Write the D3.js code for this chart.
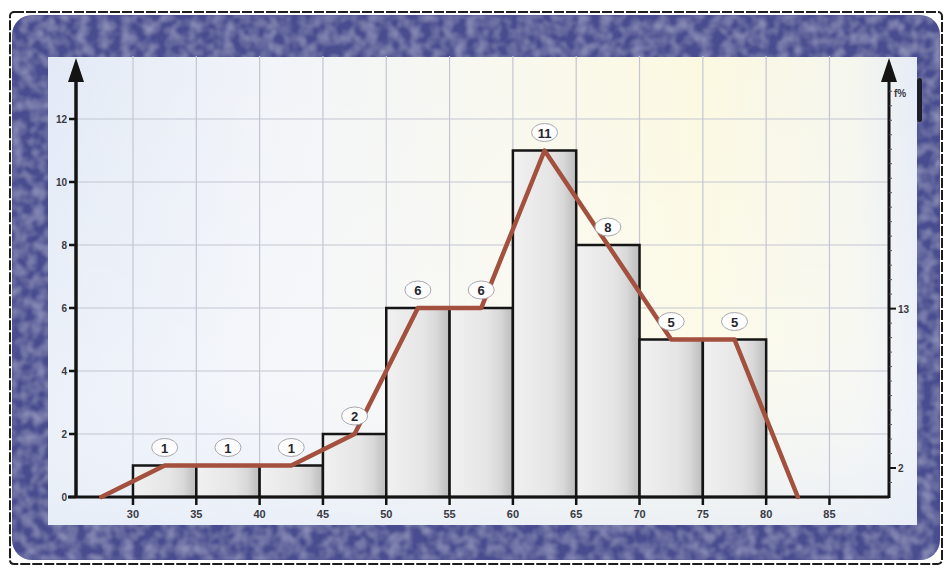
<!DOCTYPE html>
<html>
<head>
<meta charset="utf-8">
<script src="https://cdn.jsdelivr.net/npm/d3@7"></script>
<style>
  html, body { margin: 0; padding: 0; background: #fff; }
  svg { display: block; font-family: "Liberation Sans", Arial, sans-serif; }
</style>
</head>
<body>
<svg id="chart"></svg>
<script>
// Class intervals (lower bounds), class width and frequencies
const binStarts = [30, 35, 40, 45, 50, 55, 60, 65, 70, 75];
const binWidth = 5;
const counts = [1, 1, 1, 2, 6, 6, 11, 8, 5, 5];

// Tick labels
const xTicks = [30, 35, 40, 45, 50, 55, 60, 65, 70, 75, 80, 85];
const yTicks = [0, 2, 4, 6, 8, 10, 12];
const pctTicks = [2, 13];
const pctLabel = "f%";

function drawHistogram(svgId) {
    const W = 952, H = 573;
    const svg = d3.select("#" + svgId)
        .attr("width", W)
        .attr("height", H);

    const total = d3.sum(counts);

    // Scales (domain runs a little past the classes, like the drawing)
    const x = d3.scaleLinear().domain([25.5, 89.7]).range([76, 889]);
    const y = d3.scaleLinear().domain([0, 14]).range([497, 56]);
    const yPct = d3.scaleLinear().domain([0, 14 / total * 100]).range([497, 56]);

    const defs = svg.append("defs");

    // Frame texture: soft mottling
    const tex = defs.append("filter").attr("id", "tex")
        .attr("x", 0).attr("y", 0).attr("width", 1).attr("height", 1);
    tex.append("feTurbulence")
        .attr("type", "fractalNoise")
        .attr("baseFrequency", 0.09)
        .attr("numOctaves", 2)
        .attr("seed", 4)
        .attr("result", "noise");
    tex.append("feColorMatrix")
        .attr("in", "noise")
        .attr("type", "matrix")
        .attr("values", "0 0 0 0 0.50  0 0 0 0 0.52  0 0 0 0 0.74  0 0 0 0.9 -0.32")
        .attr("result", "spots");
    tex.append("feGaussianBlur")
        .attr("in", "spots").attr("stdDeviation", 0.8).attr("result", "soft");
    tex.append("feComposite")
        .attr("in", "soft").attr("in2", "SourceGraphic")
        .attr("operator", "in").attr("result", "spots2");
    const merge = tex.append("feMerge");
    merge.append("feMergeNode").attr("in", "SourceGraphic");
    merge.append("feMergeNode").attr("in", "spots2");

    // Panel background
    const panelGrad = defs.append("linearGradient").attr("id", "panelGrad")
        .attr("x1", 0).attr("x2", 1).attr("y1", 0).attr("y2", 0);
    [["0%", "#e3eaf6"], ["25%", "#f1f4f9"], ["50%", "#f8f8f0"], ["75%", "#fcf9e1"], ["93%", "#f5f6ee"], ["100%", "#e6ecf7"]]
        .forEach(s => panelGrad.append("stop").attr("offset", s[0]).attr("stop-color", s[1]));

    const panelFade = defs.append("linearGradient").attr("id", "panelFade")
        .attr("x1", 0).attr("x2", 0).attr("y1", 0).attr("y2", 1);
    panelFade.append("stop").attr("offset", "0%").attr("stop-color", "#fff").attr("stop-opacity", 0);
    panelFade.append("stop").attr("offset", "60%").attr("stop-color", "#fff").attr("stop-opacity", 0.25);
    panelFade.append("stop").attr("offset", "100%").attr("stop-color", "#e8eef8").attr("stop-opacity", 0.8);

    // Bar fill
    const barGrad = defs.append("linearGradient").attr("id", "barGrad")
        .attr("x1", 0).attr("x2", 1).attr("y1", 0).attr("y2", 0);
    [["0%", "#f1f1f1"], ["60%", "#e5e5e5"], ["80%", "#d8d8d8"], ["92%", "#c6c6c6"], ["100%", "#bebebe"]]
        .forEach(s => barGrad.append("stop").attr("offset", s[0]).attr("stop-color", s[1]));

    // Outer frame
    svg.append("rect")
        .attr("x", 10).attr("y", 12)
        .attr("width", 932).attr("height", 552)
        .attr("rx", 4)
        .attr("fill", "#fff")
        .attr("stroke", "#1c1c1c")
        .attr("stroke-width", 2)
        .attr("stroke-dasharray", "10 2");

    svg.append("rect")
        .attr("x", 12).attr("y", 15)
        .attr("width", 928).attr("height", 545)
        .attr("rx", 20)
        .attr("fill", "#4a4e8f")
        .attr("filter", "url(#tex)");

    // Inner panel
    svg.append("rect")
        .attr("x", 48).attr("y", 57)
        .attr("width", 869).attr("height", 468)
        .attr("fill", "url(#panelGrad)");
    svg.append("rect")
        .attr("x", 48).attr("y", 57)
        .attr("width", 869).attr("height", 468)
        .attr("fill", "url(#panelFade)");

    // Small dark mark on the right of the panel
    svg.append("rect")
        .attr("x", 917).attr("y", 78)
        .attr("width", 5).attr("height", 44)
        .attr("rx", 2.5)
        .attr("fill", "#1e1e2a");

    // Grid
    const grid = svg.append("g").attr("class", "grid");
    grid.selectAll(".vgrid")
        .data(xTicks)
        .enter()
        .append("line")
        .attr("x1", d => x(d)).attr("x2", d => x(d))
        .attr("y1", y(14)).attr("y2", y(0))
        .attr("stroke", "#c3c6d2")
        .attr("stroke-width", 1.2);
    grid.selectAll(".hgrid")
        .data(yTicks.filter(d => d > 0))
        .enter()
        .append("line")
        .attr("x1", x.range()[0]).attr("x2", x.range()[1])
        .attr("y1", d => y(d)).attr("y2", d => y(d))
        .attr("stroke", "#c3c6d2")
        .attr("stroke-width", 1.2);

    // Bars
    svg.selectAll(".bar")
        .data(binStarts)
        .enter()
        .append("rect")
        .attr("class", "bar")
        .attr("x", d => x(d))
        .attr("y", (d, i) => y(counts[i]))
        .attr("width", d => x(d + binWidth) - x(d))
        .attr("height", (d, i) => y(0) - y(counts[i]))
        .attr("fill", "url(#barGrad)")
        .attr("stroke", "#151515")
        .attr("stroke-width", 2.5);

    // Axes
    const axisColor = "#141414";

    // X axis line + ticks
    svg.append("line")
        .attr("x1", 68).attr("x2", x.range()[1])
        .attr("y1", y(0)).attr("y2", y(0))
        .attr("stroke", axisColor).attr("stroke-width", 3);
    svg.selectAll(".xtick")
        .data(xTicks)
        .enter()
        .append("line")
        .attr("x1", d => x(d)).attr("x2", d => x(d))
        .attr("y1", y(0)).attr("y2", y(0) + 8)
        .attr("stroke", axisColor).attr("stroke-width", 2.5);
    svg.selectAll(".xlabel")
        .data(xTicks)
        .enter()
        .append("text")
        .attr("x", d => x(d))
        .attr("y", y(0) + 21)
        .attr("text-anchor", "middle")
        .attr("font-size", 11)
        .attr("font-weight", "bold")
        .attr("fill", "#3a3a44")
        .text(d => d);

    // Left Y axis
    svg.append("line")
        .attr("x1", x.range()[0]).attr("x2", x.range()[0])
        .attr("y1", y(0) + 1).attr("y2", 76)
        .attr("stroke", axisColor).attr("stroke-width", 3.5);
    svg.append("path")
        .attr("d", d3.line()([[x.range()[0] - 8, 82], [x.range()[0], 58], [x.range()[0] + 8, 82]]) + "Z")
        .attr("fill", axisColor);
    svg.selectAll(".ytick")
        .data(yTicks)
        .enter()
        .append("line")
        .attr("x1", x.range()[0] - 7).attr("x2", x.range()[0])
        .attr("y1", d => y(d)).attr("y2", d => y(d))
        .attr("stroke", axisColor).attr("stroke-width", 2.5);
    svg.selectAll(".ylabel")
        .data(yTicks)
        .enter()
        .append("text")
        .attr("x", x.range()[0] - 9)
        .attr("y", d => y(d) + 4)
        .attr("text-anchor", "end")
        .attr("font-size", 10)
        .attr("font-weight", "bold")
        .attr("fill", "#3a3a44")
        .text(d => d);

    // Right axis (relative frequency, %)
    const xr = x.range()[1];
    svg.append("line")
        .attr("x1", xr).attr("x2", xr)
        .attr("y1", y(0) + 1).attr("y2", 76)
        .attr("stroke", axisColor).attr("stroke-width", 3);
    svg.append("path")
        .attr("d", d3.line()([[xr - 8, 82], [xr, 58], [xr + 8, 82]]) + "Z")
        .attr("fill", axisColor);
    svg.selectAll(".pminor")
        .data(d3.range(1, 29))
        .enter()
        .append("line")
        .attr("x1", xr).attr("x2", xr + 3)
        .attr("y1", d => yPct(d)).attr("y2", d => yPct(d))
        .attr("stroke", "#555").attr("stroke-width", 1);
    svg.selectAll(".ptick")
        .data(pctTicks)
        .enter()
        .append("line")
        .attr("x1", xr).attr("x2", xr + 7)
        .attr("y1", d => yPct(d)).attr("y2", d => yPct(d))
        .attr("stroke", axisColor).attr("stroke-width", 2);
    svg.selectAll(".plabel")
        .data(pctTicks)
        .enter()
        .append("text")
        .attr("x", xr + 9)
        .attr("y", d => yPct(d) + 4)
        .attr("font-size", 10)
        .attr("font-weight", "bold")
        .attr("fill", "#3a3a44")
        .text(d => d);
    svg.append("text")
        .attr("x", xr + 5)
        .attr("y", 97)
        .attr("font-size", 10)
        .attr("font-weight", "bold")
        .attr("fill", "#3a3a44")
        .text(pctLabel);

    // Frequency polygon through class midpoints, closed to zero at both ends
    const polyPoints = [[binStarts[0] - binWidth / 2, 0]]
        .concat(binStarts.map((d, i) => [d + binWidth / 2, counts[i]]))
        .concat([[binStarts[binStarts.length - 1] + binWidth * 1.5, 0]]);

    svg.append("path")
        .datum(polyPoints)
        .attr("fill", "none")
        .attr("stroke", "#a4503f")
        .attr("stroke-width", 4.5)
        .attr("stroke-linejoin", "round")
        .attr("stroke-linecap", "round")
        .attr("d", d3.line().x(d => x(d[0])).y(d => y(d[1])));

    // Value labels in ovals above each vertex
    const labels = svg.selectAll(".vlabel")
        .data(binStarts)
        .enter()
        .append("g")
        .attr("transform", (d, i) => `translate(${x(d + binWidth / 2)},${y(counts[i]) - 18})`);
    labels.append("ellipse")
        .attr("rx", 13).attr("ry", 9)
        .attr("fill", "#fdfdfd")
        .attr("stroke", "#a8a8ae")
        .attr("stroke-width", 1);
    labels.append("text")
        .attr("y", 5)
        .attr("text-anchor", "middle")
        .attr("font-size", 13)
        .attr("font-weight", "bold")
        .attr("fill", "#26262e")
        .text((d, i) => counts[i]);
}

drawHistogram("chart");
</script>
</body>
</html>
